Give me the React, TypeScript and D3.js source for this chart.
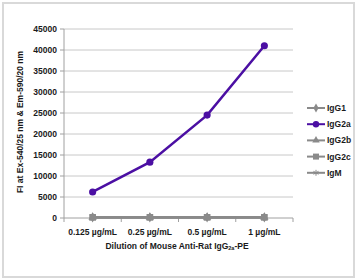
import React from "react";
import { scaleBand, scaleLinear, line, symbol, symbolDiamond, symbolCircle, symbolTriangle, symbolSquare, symbolAsterisk } from "d3";

const categories = ["0.125 µg/mL", "0.25 µg/mL", "0.5 µg/mL", "1 µg/mL"];
const yTicks = [0, 5000, 10000, 15000, 20000, 25000, 30000, 35000, 40000, 45000];

const igG1 = [150, 150, 150, 150];
const igG2a = [6200, 13300, 24500, 41000];
const igG2b = [150, 150, 150, 150];
const igG2c = [150, 150, 150, 150];
const igM = [150, 150, 150, 150];

const series = [
  { name: "IgG1", values: igG1, color: "#8a8a8a", shape: symbolDiamond, size: 30, stroked: false },
  { name: "IgG2a", values: igG2a, color: "#4b0fa3", shape: symbolCircle, size: 40, stroked: false },
  { name: "IgG2b", values: igG2b, color: "#8a8a8a", shape: symbolTriangle, size: 30, stroked: false },
  { name: "IgG2c", values: igG2c, color: "#8a8a8a", shape: symbolSquare, size: 45, stroked: false },
  { name: "IgM", values: igM, color: "#8a8a8a", shape: symbolAsterisk, size: 30, stroked: true },
];

const W = 357;
const H = 280;
const left = 64, right = 293, top = 29, bottom = 218;
const font = "'Liberation Sans', Arial, sans-serif";

export default function App() {
  const x = scaleBand().domain(categories).range([left, right]);
  const y = scaleLinear().domain([0, 45000]).range([bottom, top]);
  const cx = (i: number) => (x(categories[i]) as number) + x.bandwidth() / 2;
  const path = line<number>().x((_, i) => cx(i)).y((d) => y(d));

  // gray series first so purple sits on top
  const order = [0, 2, 4, 3, 1];

  return (
    <svg width={W} height={H} style={{ position: "absolute", left: 0, top: 0, background: "#fff" }} fontFamily={font}>
      <rect x={3} y={3} width={W - 6} height={H - 6} fill="#fff" stroke="#d9d9d9" strokeWidth={2} />

      {yTicks.map((t) => (
        <g key={t}>
          {t > 0 && <line x1={left} x2={right} y1={y(t)} y2={y(t)} stroke="#c8c8c8" strokeWidth={1} />}
          <line x1={left - 4} x2={left} y1={y(t)} y2={y(t)} stroke="#a0a0a0" />
          <text x={left - 7} y={y(t)} dy="0.35em" textAnchor="end" fontSize={8.5} fontWeight="bold" fill="#1a1a1a">
            {t}
          </text>
        </g>
      ))}
      <line x1={left} x2={left} y1={top} y2={bottom} stroke="#a0a0a0" />
      <line x1={left} x2={right} y1={bottom} y2={bottom} stroke="#a0a0a0" />
      {categories.map((c) => (
        <line key={"t" + c} x1={x(c) as number} x2={x(c) as number} y1={bottom} y2={bottom + 4} stroke="#a0a0a0" />
      ))}
      <line x1={right} x2={right} y1={bottom} y2={bottom + 4} stroke="#a0a0a0" />
      {categories.map((c, i) => (
        <text key={c} x={cx(i)} y={232} dy="0.35em" textAnchor="middle" fontSize={8.5} fontWeight="bold" fill="#1a1a1a">
          {c}
        </text>
      ))}

      {order.map((k) => {
        const s = series[k];
        return (
          <g key={s.name}>
            <path d={path(s.values) as string} fill="none" stroke={s.color} strokeWidth={2.5} />
            {s.values.map((v, i) => (
              <path
                key={i}
                transform={`translate(${cx(i)},${y(v)})`}
                d={symbol(s.shape, s.size)() as string}
                fill={s.stroked ? "none" : s.color}
                stroke={s.stroked ? s.color : "none"}
                strokeWidth={1}
              />
            ))}
          </g>
        );
      })}

      <text x={177} y={246} dy="0.35em" textAnchor="middle" fontSize={8.5} fontWeight="bold" fill="#1a1a1a">
        Dilution of Mouse Anti-Rat IgG<tspan fontSize={5.5} dy="1.5">2a</tspan><tspan dy="-1.5">-PE</tspan>
      </text>
      <text
        transform={`translate(20,122) rotate(-90)`}
        dy="0.35em"
        textAnchor="middle"
        fontSize={8.5}
        fontWeight="bold"
        fill="#1a1a1a"
      >
        FI at Ex-540/25 nm &amp; Em-590/20 nm
      </text>

      {series.map((s, i) => {
        const ly = 108 + i * 16.2;
        return (
          <g key={"lg" + s.name}>
            <line x1={307} x2={325} y1={ly} y2={ly} stroke={s.color} strokeWidth={2} />
            <path
              transform={`translate(316,${ly})`}
              d={symbol(s.shape, s.size * 0.8)() as string}
              fill={s.stroked ? "none" : s.color}
              stroke={s.stroked ? s.color : "none"}
              strokeWidth={1}
            />
            <text x={327} y={ly} dy="0.35em" fontSize={8.5} fontWeight="bold" fill="#1a1a1a">
              {s.name}
            </text>
          </g>
        );
      })}
    </svg>
  );
}
